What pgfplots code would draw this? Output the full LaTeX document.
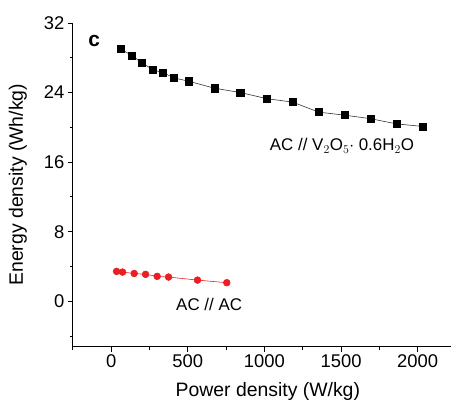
\documentclass[border=0pt]{standalone}
\usepackage{pgfplots}
\pgfplotsset{compat=1.18}
\usepackage{fontspec}
\setmainfont{Liberation Sans}
\definecolor{redpt}{RGB}{235,30,35}

\begin{document}
\begin{tikzpicture}
\begin{axis}[
  scale only axis,
  width=379bp, height=324bp,
  xmin=-250, xmax=2220,
  ymin=-5.2, ymax=32,
  axis x line*=bottom,
  axis y line*=left,
  tick align=outside,
  xtick={0,500,1000,1500,2000},
  ytick={0,8,16,24,32},
  minor xtick={-250,250,750,1250,1750},
  minor ytick={-4,4,12,20,28},
  major tick length=5bp,
  minor tick length=3bp,
  tick style={black, line width=0.9pt},
  axis line style={-, black, line width=1.2pt},
  every tick label/.append style={font=\fontsize{18.5}{20}\selectfont},
  /pgf/number format/assume math mode=true,
  /pgf/number format/1000 sep={},
  xlabel={Power density (W/kg)},
  ylabel={Energy density (Wh/kg)},
  label style={font=\fontsize{19.5}{21}\selectfont},
  xlabel style={at={(rel axis cs:0.515,0)}, anchor=center, yshift=-45bp},
  ylabel style={at={(rel axis cs:0,0.5)}, anchor=center, rotate=0, yshift=55bp},
  clip=false,
]
\addplot[black!80, line width=0.6pt, mark=square*, mark size=3.6bp, mark options={solid, black}] coordinates {
(63,29.0) (135,28.25) (202,27.4) (274,26.6) (339,26.3) (406,25.7) (506,25.3)
(674,24.5) (843,24.0) (1015,23.3) (1184,22.9) (1354,21.75) (1523,21.4)
(1692,21.0) (1862,20.4) (2034,20.1)
};
\addplot[redpt, line width=0.6pt, mark=*, mark size=3.4bp, mark options={solid, redpt}] coordinates {
(35,3.44) (74,3.36) (150,3.2) (224,3.1) (300,2.87) (374,2.79) (563,2.44) (754,2.14)
};
\draw[black, line width=1.2pt] (rel axis cs:0,1) |- (rel axis cs:1,0);
\node[font=\bfseries\fontsize{21}{23}\selectfont, anchor=center] at (axis cs:-111,29.9) {c};
\node[font=\fontsize{17}{19}\selectfont, anchor=center] at (axis cs:1506,17.9) {AC // V$_2$O$_5${}$\cdot$ 0.6H$_2$O};
\node[font=\fontsize{17}{19}\selectfont, anchor=center] at (axis cs:639,-0.4) {AC // AC};
\end{axis}
\path (current axis.north west) ++(-73bp,23bp) coordinate (tl);
\path (tl) ++(452bp,-402bp) coordinate (br);
\path (tl) rectangle (br);
\end{tikzpicture}
\end{document}
